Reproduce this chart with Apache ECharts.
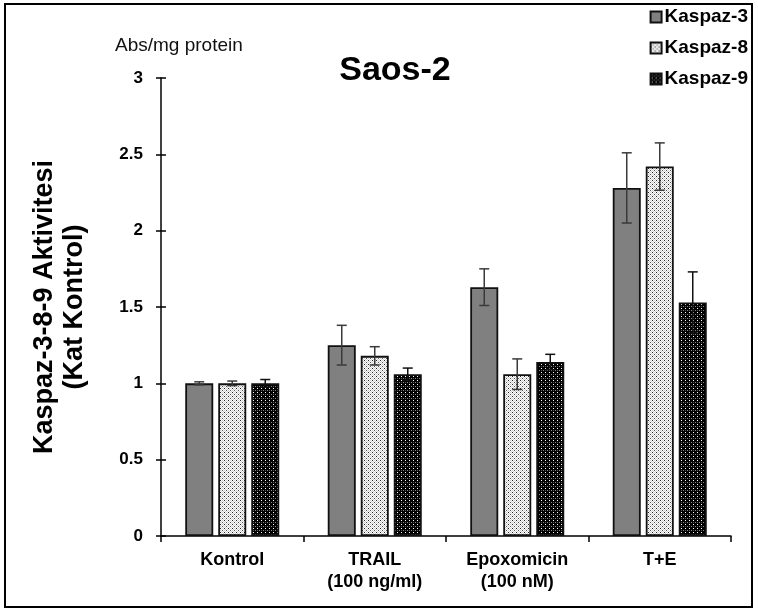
<!DOCTYPE html>
<html><head><meta charset="utf-8">
<script src="https://cdn.jsdelivr.net/npm/echarts@6/dist/echarts.min.js"></script>
<style>html,body{margin:0;padding:0;background:#fff}#c{width:758px;height:612px}</style>
</head><body><div id="c"></div>
<script>
const categories = ['Kontrol', 'TRAIL\n(100 ng/ml)', 'Epoxomicin\n(100 nM)', 'T+E'];
const seriesNames = ['Kaspaz-3', 'Kaspaz-8', 'Kaspaz-9'];
const kaspaz3 = [1.00, 1.25, 1.63, 2.28];
const kaspaz3Err = [0.01, 0.13, 0.12, 0.23];
const kaspaz8 = [1.00, 1.18, 1.06, 2.42];
const kaspaz8Err = [0.015, 0.06, 0.10, 0.155];
const kaspaz9 = [1.00, 1.06, 1.14, 1.53];
const kaspaz9Err = [0.025, 0.04, 0.05, 0.20];
const yTicks = [0, 0.5, 1, 1.5, 2, 2.5, 3];

const FONT = '"Liberation Sans", Arial, sans-serif';
const BAR_W = 28, BAR_GAP = 5;

function makePattern(w, h, bg, dots) {
  const c = document.createElement('canvas');
  c.width = w; c.height = h;
  const ctx = c.getContext('2d');
  ctx.fillStyle = bg; ctx.fillRect(0, 0, w, h);
  dots.forEach(d => { ctx.fillStyle = d[2]; ctx.fillRect(d[0], d[1], 1, 1); });
  return c;
}
const pat8 = makePattern(4, 4, '#ffffff', [
  [0,0,'#222'],[2,0,'#cfcfcf'],[1,1,'#cfcfcf'],[3,1,'#cfcfcf'],[0,2,'#cfcfcf'],[2,2,'#555'],[1,3,'#cfcfcf'],[3,3,'#cfcfcf']
]);
const pat9 = makePattern(4, 4, '#000000', [
  [1,0,'#ffffff'],[3,2,'#888888'],[1,2,'#555555']
]);

const fills = [
  '#808080',
  { image: pat8, repeat: 'repeat' },
  { image: pat9, repeat: 'repeat' }
];
const vals = [kaspaz3, kaspaz8, kaspaz9];
const errs = [kaspaz3Err, kaspaz8Err, kaspaz9Err];
const errColors = ['#3a3a3a', '#3a3a3a', '#111'];

const chart = echarts.init(document.getElementById('c'), null, { renderer: 'canvas' });

const series = [];
seriesNames.forEach((n, i) => {
  series.push({
    name: n, type: 'bar', data: vals[i], barWidth: BAR_W, barGap: (BAR_GAP / BAR_W * 100) + '%',
    itemStyle: { color: fills[i], borderColor: '#111', borderWidth: 1.8 },
    z: 2
  });
});
seriesNames.forEach((n, i) => {
  series.push({
    name: n + ' err', type: 'custom', z: 5,
    data: vals[i].map((v, k) => [k, v - errs[i][k], v + errs[i][k]]),
    renderItem: function (params, api) {
      const k = api.value(0);
      const lo = api.coord([k, api.value(1)]);
      const hi = api.coord([k, api.value(2)]);
      const x = lo[0] + (i - 1) * (BAR_W + BAR_GAP);
      const cw = 5;
      const st = { stroke: errColors[i], lineWidth: 1.5 };
      return { type: 'group', children: [
        { type: 'line', shape: { x1: x, y1: lo[1], x2: x, y2: hi[1] }, style: st },
        { type: 'line', shape: { x1: x - cw, y1: hi[1], x2: x + cw, y2: hi[1] }, style: st },
        { type: 'line', shape: { x1: x - cw, y1: lo[1], x2: x + cw, y2: lo[1] }, style: st }
      ]};
    },
    encode: { x: 0, y: [1, 2] },
    silent: true
  });
});

chart.setOption({
  animation: false,
  backgroundColor: '#fff',
  graphic: [{ type: 'rect', shape: { x: 5, y: 4, width: 747, height: 603 }, style: { fill: 'none', stroke: '#000', lineWidth: 2 }, z: 100 }],
  title: [
    { text: 'Saos-2', left: 395, top: 54, padding: 0, textAlign: 'center', textStyle: { fontFamily: FONT, fontWeight: 'bold', fontSize: 34, color: '#000' } },
    { text: 'Abs/mg protein', left: 115, top: 36, padding: 0, textStyle: { fontFamily: FONT, fontWeight: 'normal', fontSize: 19, color: '#111' } }
  ],
  legend: {
    data: seriesNames, orient: 'vertical', right: 5, top: 2, align: 'left',
    icon: 'rect', itemWidth: 11, itemHeight: 11, itemGap: 11,
    textStyle: { fontFamily: FONT, fontWeight: 'bold', fontSize: 19, color: '#000', lineHeight: 20, padding: [0, 0, 0, -2] }
  },
  grid: { left: 161, top: 78, right: 27, bottom: 76, containLabel: false },
  xAxis: {
    type: 'category', data: categories,
    axisLine: { lineStyle: { color: '#000', width: 1.5 } },
    axisTick: { show: true, length: 6, lineStyle: { color: '#000', width: 1.5 } },
    axisLabel: { fontFamily: FONT, fontWeight: 'bold', fontSize: 18, color: '#000', margin: 13, lineHeight: 22 }
  },
  yAxis: [{
    type: 'value', min: 0, max: 3, interval: 0.5,
    name: 'Kaspaz-3-8-9 Aktivitesi\n(Kat Kontrol)', nameLocation: 'middle', nameRotate: 90, nameGap: 71,
    nameTextStyle: { fontFamily: FONT, fontWeight: 'bold', fontSize: 27, color: '#000', lineHeight: 30 },
    axisLine: { show: true, lineStyle: { color: '#000', width: 1.5 } },
    axisTick: { show: true, length: 5, lineStyle: { color: '#000', width: 1.5 } },
    splitLine: { show: false },
    axisLabel: { fontFamily: FONT, fontWeight: 'bold', fontSize: 17, color: '#000', margin: 18,
      formatter: v => yTicks.indexOf(v) >= 0 ? String(v) : '' }
  }, {
    type: 'value', min: 0, max: 3, interval: 0.5, position: 'left',
    axisLine: { show: false },
    axisTick: { show: true, inside: true, length: 5, lineStyle: { color: '#000', width: 1.5 } },
    axisLabel: { show: false }, splitLine: { show: false }
  }],
  series: series
});
</script></body></html>
